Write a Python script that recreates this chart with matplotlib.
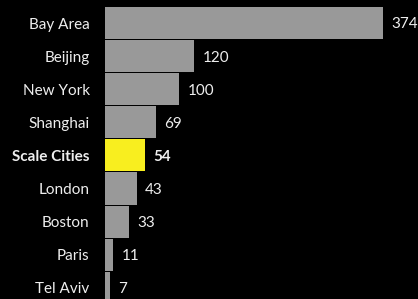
import matplotlib
matplotlib.use("Agg")
import matplotlib.pyplot as plt

# data
cities = ["Bay Area", "Beijing", "New York", "Shanghai", "Scale Cities",
          "London", "Boston", "Paris", "Tel Aviv"]
values = [374, 120, 100, 69, 54, 43, 33, 11, 7]
highlight = "Scale Cities"

plt.rcParams["font.family"] = ["Lato", "DejaVu Sans"]

bg = "#000000"
grey = "#999999"
yellow = "#f8ee1f"
txt = "#eeeeee"

fig = plt.figure(figsize=(4.18, 2.99), dpi=100, facecolor=bg)
ax = fig.add_axes([0.251, 0, 0.749, 1])
ax.set_facecolor(bg)

ypos = list(range(len(cities)))
colors = [yellow if c == highlight else grey for c in cities]
ax.barh(ypos, values, height=0.97, color=colors)

ax.set_xlim(0, 421)
ax.set_ylim(8.34, -0.695)

ax.set_yticks(ypos)
ax.set_yticklabels(cities, fontsize=11, color=txt)
for lab in ax.get_yticklabels():
    lab.set_verticalalignment("center_baseline")
    if lab.get_text() == highlight:
        lab.set_fontweight("bold")
ax.tick_params(axis="y", length=0, pad=11)
ax.set_xticks([])
for s in ax.spines.values():
    s.set_visible(False)

# value labels
for y, v, c in zip(ypos, values, cities):
    ax.annotate(str(v), (v, y), xytext=(6, 0), textcoords="offset points",
                va="center_baseline", ha="left", fontsize=11, color=txt,
                fontweight="bold" if c == highlight else "normal")

fig.savefig("out.png", dpi=100, facecolor=bg)
